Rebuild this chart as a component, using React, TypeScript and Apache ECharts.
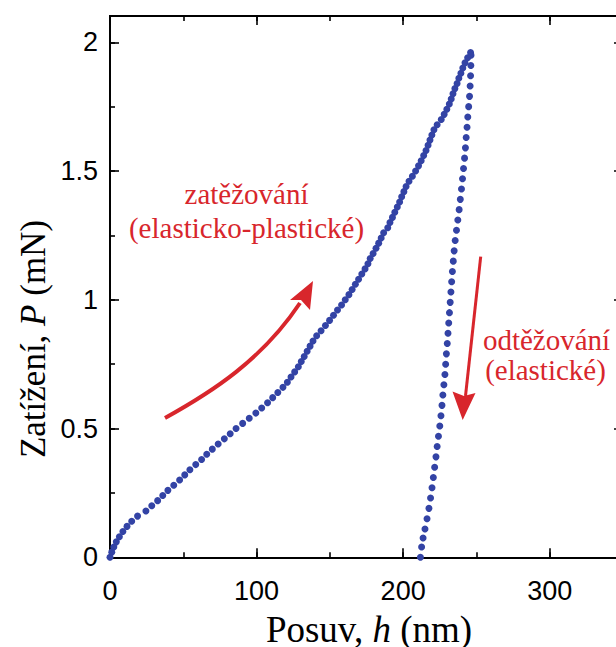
import React, { useEffect, useRef } from "react";
import * as echarts from "echarts";

// Loading branch (zatěžování): displacement h (nm) and load P (mN)
const loadH = [
  0, 1.2, 2.6, 4.3, 6.4, 8.8, 11.6, 14.8, 18.8, 24.5, 28.5, 32.5, 36, 39.5, 43.5, 47.5, 51, 54.5, 58.5, 62.5,
  66, 69.8, 73.8, 78, 82, 86, 90.5, 95, 99.5, 103.5, 107.5, 111, 114.5, 118, 121, 123.5, 126, 128.5, 130.5, 132.5,
  134.5, 136.5, 138.5, 141, 144, 147, 149.8, 152.5, 155.2, 158, 160.5, 163, 165.2, 167.4, 169.6, 171.8, 174, 176, 177.5, 179.5,
  181.5, 183.3, 185, 186.7, 189.5, 191, 192.7, 194.3, 196, 197.6, 199, 200.5, 202, 204, 206.3, 208.5, 210.5, 212.3, 214, 215.6,
  217, 218.3, 219.6, 221, 223.2, 226, 228, 229.8, 231.5, 232.8, 234, 235.3, 236.8, 238, 239.4, 240.7, 242.2, 244, 246,
];
const loadP = [
  0, 0.02, 0.04, 0.06, 0.08, 0.1, 0.12, 0.14, 0.16, 0.18, 0.2, 0.22, 0.24, 0.26, 0.28, 0.3, 0.32, 0.34, 0.36, 0.38,
  0.4, 0.42, 0.44, 0.46, 0.48, 0.5, 0.52, 0.54, 0.56, 0.58, 0.6, 0.62, 0.64, 0.66, 0.68, 0.7, 0.72, 0.74, 0.76, 0.78,
  0.8, 0.82, 0.84, 0.86, 0.88, 0.9, 0.92, 0.94, 0.96, 0.98, 1.0, 1.02, 1.04, 1.06, 1.08, 1.1, 1.12, 1.14, 1.16, 1.18,
  1.2, 1.22, 1.24, 1.26, 1.28, 1.3, 1.32, 1.34, 1.36, 1.38, 1.4, 1.42, 1.44, 1.46, 1.48, 1.5, 1.52, 1.54, 1.56, 1.58,
  1.6, 1.62, 1.64, 1.66, 1.68, 1.7, 1.72, 1.74, 1.76, 1.78, 1.8, 1.82, 1.84, 1.86, 1.88, 1.9, 1.92, 1.94, 1.96,
];

// Unloading branch (odtěžování)
const unloadH = [
  246.3, 246.2, 246.0, 245.7, 245.3, 244.7, 244.1, 243.6, 243.0, 242.5, 241.9, 241.2, 240.5, 239.8, 239.0, 238.2, 237.3,
  236.4, 235.5, 234.8, 234.2, 233.6, 233.1, 232.6, 232.1, 231.6, 231.1, 230.6, 230.1, 229.5, 229.0, 228.5, 227.8, 227.1,
  226.5, 225.8, 225.0, 224.1, 223.2, 222.4, 221.5, 220.6, 219.7, 218.7, 217.6, 216.3, 214.9, 213.6, 212.6, 211.8,
];
const unloadP = [
  1.95, 1.91, 1.87, 1.83, 1.79, 1.75, 1.71, 1.67, 1.63, 1.59, 1.55, 1.51, 1.47, 1.43, 1.39, 1.35, 1.31,
  1.27, 1.23, 1.19, 1.15, 1.11, 1.07, 1.03, 0.99, 0.95, 0.91, 0.87, 0.83, 0.79, 0.75, 0.71, 0.67, 0.63,
  0.59, 0.55, 0.51, 0.47, 0.43, 0.39, 0.35, 0.31, 0.27, 0.23, 0.19, 0.15, 0.11, 0.075, 0.04, 0,
];

const xTicks = [0, 100, 200, 300];
const yTicks = [0, 0.5, 1, 1.5, 2];

const BLUE = "#3343a5";
const RED = "#d8262c";
const SERIF = "'Liberation Serif', 'Times New Roman', serif";
const SANS = "'Liberation Sans', Arial, Helvetica, sans-serif";

export default function App() {
  const ref = useRef<HTMLDivElement>(null);

  useEffect(() => {
    if (!ref.current) return;
    const chart = echarts.init(ref.current, null, { renderer: "svg" });

    const lineStyle = { color: "#000", width: 1.8 };
    const mkX = (position: string, interval: number, tickLen: number, labels: boolean) => ({
      type: "value",
      min: 0,
      max: 350,
      interval,
      position,
      axisLine: { show: true, onZero: false, lineStyle },
      axisTick: { show: true, inside: true, length: tickLen, lineStyle: { color: "#000", width: 1.6 } },
      axisLabel: labels
        ? {
            show: true,
            fontFamily: SANS,
            fontSize: 27,
            color: "#000",
            margin: 20,
            showMaxLabel: false,
            formatter: (v: number) => (xTicks.includes(v) ? String(v) : ""),
          }
        : { show: false },
      splitLine: { show: false },
    });
    const mkY = (position: string, interval: number, tickLen: number, labels: boolean) => ({
      type: "value",
      min: 0,
      max: 2.102,
      interval,
      position,
      axisLine: { show: true, onZero: false, lineStyle },
      axisTick: { show: true, inside: true, length: tickLen, lineStyle: { color: "#000", width: 1.6 } },
      axisLabel: labels
        ? {
            show: true,
            fontFamily: SANS,
            fontSize: 27,
            color: "#000",
            margin: 12,
            showMaxLabel: false,
            formatter: (v: number) => (yTicks.includes(v) ? String(v) : ""),
          }
        : { show: false },
      splitLine: { show: false },
    });

    chart.setOption({
      animation: false,
      backgroundColor: "#fff",
      grid: { left: 110, top: 16, width: 513, height: 541.3, containLabel: false, outerBoundsMode: "none" },
      xAxis: [
        mkX("bottom", 100, 9, true),
        mkX("bottom", 50, 5, false),
        mkX("top", 100, 9, false),
        mkX("top", 50, 5, false),
      ],
      yAxis: [
        mkY("left", 0.5, 9, true),
        mkY("left", 0.25, 5, false),
        mkY("right", 0.5, 9, false),
      ],
      series: [
        {
          name: "zatěžování",
          type: "scatter",
          xAxisIndex: 0,
          yAxisIndex: 0,
          symbol: "circle",
          symbolSize: 7,
          clip: false,
          itemStyle: { color: BLUE, opacity: 1 },
          data: loadH.map((h, i) => [h, loadP[i]]),
          z: 3,
        },
        {
          name: "odtěžování",
          type: "scatter",
          xAxisIndex: 0,
          yAxisIndex: 0,
          symbol: "circle",
          symbolSize: 7,
          clip: false,
          itemStyle: { color: BLUE, opacity: 1 },
          data: unloadH.map((h, i) => [h, unloadP[i]]),
          z: 3,
        },
      ],
      graphic: [
        {
          type: "text",
          x: 33,
          y: 339,
          rotation: Math.PI / 2,
          style: {
            text: "Zatížení, {i|P} (mN)",
            fontFamily: SERIF,
            fontSize: 35,
            fill: "#000",
            textAlign: "center",
            textVerticalAlign: "middle",
            rich: { i: { fontStyle: "italic", fontFamily: SERIF, fontSize: 35, fill: "#000" } },
          },
        },
        {
          type: "text",
          x: 369,
          y: 629,
          style: {
            text: "Posuv, {i|h} (nm)",
            fontFamily: SERIF,
            fontSize: 37,
            fill: "#000",
            textAlign: "center",
            textVerticalAlign: "middle",
            rich: { i: { fontStyle: "italic", fontFamily: SERIF, fontSize: 37, fill: "#000" } },
          },
        },
        {
          type: "text",
          x: 246.5,
          y: 193.5,
          style: { text: "zatěžování", fontFamily: SERIF, fontSize: 29, fill: RED, textAlign: "center", textVerticalAlign: "middle" },
        },
        {
          type: "text",
          x: 246.5,
          y: 228,
          style: { text: "(elasticko-plastické)", fontFamily: SERIF, fontSize: 29, fill: RED, textAlign: "center", textVerticalAlign: "middle" },
        },
        {
          type: "text",
          x: 546.5,
          y: 340,
          style: { text: "odtěžování", fontFamily: SERIF, fontSize: 29, fill: RED, textAlign: "center", textVerticalAlign: "middle" },
        },
        {
          type: "text",
          x: 545.5,
          y: 370,
          style: { text: "(elastické)", fontFamily: SERIF, fontSize: 29, fill: RED, textAlign: "center", textVerticalAlign: "middle" },
        },
        {
          type: "bezierCurve",
          shape: { x1: 165, y1: 418, cpx1: 212, cpy1: 392, cpx2: 262, cpy2: 360, x2: 300, y2: 303 },
          style: { stroke: RED, lineWidth: 4, fill: "none" },
        },
        {
          type: "polygon",
          shape: { points: [[313, 281], [290, 300], [301, 300], [310, 310]] },
          style: { fill: RED },
        },
        {
          type: "line",
          shape: { x1: 480.7, y1: 256.7, x2: 465.5, y2: 396 },
          style: { stroke: RED, lineWidth: 3 },
        },
        {
          type: "polygon",
          shape: { points: [[462.7, 420], [452.5, 391.5], [464, 396], [475.5, 393]] },
          style: { fill: RED },
        },
      ],
    });

    return () => chart.dispose();
  }, []);

  return (
    <div
      ref={ref}
      style={{ position: "absolute", left: 0, top: 0, width: 616, height: 647, background: "#fff" }}
    />
  );
}
